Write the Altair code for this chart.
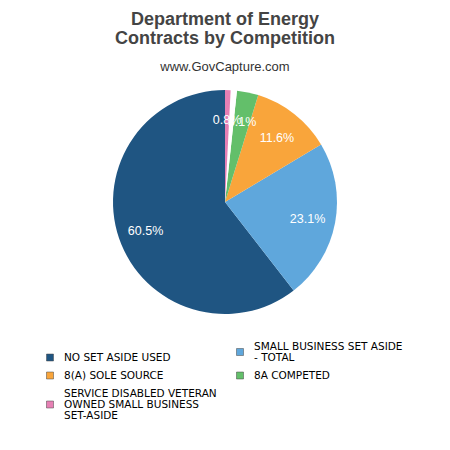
import altair as alt
import pandas as pd

# slices as drawn clockwise from 12 o'clock are reversed from this list
categories = [
    "NO SET ASIDE USED",
    "SMALL BUSINESS SET ASIDE - TOTAL",
    "8(A) SOLE SOURCE",
    "8A COMPETED",
    "OTHER",
    "SERVICE DISABLED VETERAN OWNED SMALL BUSINESS SET-ASIDE",
]
values = [60.5, 23.1, 11.6, 3.1, 0.9, 0.8]
pie_labels = ["60.5%", "23.1%", "11.6%", "3.1%", "", "0.8%"]
draw_order = [6, 5, 4, 3, 2, 1]
colors = ["#1f5582", "#5fa7dc", "#f9a53b", "#63bf6a", "#ffffff", "#e680b4"]

legend_categories = [
    "NO SET ASIDE USED",
    "SMALL BUSINESS SET ASIDE - TOTAL",
    "8(A) SOLE SOURCE",
    "8A COMPETED",
    "SERVICE DISABLED VETERAN OWNED SMALL BUSINESS SET-ASIDE",
]
legend_lines = [
    ["NO SET ASIDE USED"],
    ["SMALL BUSINESS SET ASIDE", "- TOTAL"],
    ["8(A) SOLE SOURCE"],
    ["8A COMPETED"],
    ["SERVICE DISABLED VETERAN", "OWNED SMALL BUSINESS", "SET-ASIDE"],
]

color_scale = alt.Scale(domain=categories, range=colors)

df = pd.DataFrame({
    "category": categories,
    "value": values,
    "order": draw_order,
    "label": pie_labels,
})

# ---- pie ----
base = alt.Chart(df).encode(
    theta=alt.Theta("value:Q", stack=True),
    order=alt.Order("order:Q"),
)
pie = base.mark_arc(outerRadius=112).encode(
    color=alt.Color("category:N", scale=color_scale, legend=None)
)
text = base.mark_text(radius=84, dy=2, color="white", font="Liberation Sans", fontSize=12.5).encode(
    text="label:N"
)
pie_chart = (pie + text).properties(width=424, height=240)

# ---- legend (two columns, multi-line labels centred on their swatch) ----
LH = 11.0     # line height of legend text
GAP = 7.0     # gap between stacked entries in a column
FIRST = 25.5  # where the last line of the first entry in each column sits
sym_rows, txt_rows = [], []
cursor = {}
for i, (cat, lines) in enumerate(zip(legend_categories, legend_lines)):
    col = i % 2
    n = len(lines)
    if col not in cursor:
        center = FIRST - (n - 1) * LH / 2
    else:
        center = cursor[col] + GAP + n * LH / 2
    cursor[col] = center + n * LH / 2
    sym_rows.append({"category": cat, "col": col, "y": center})
    top = center - (n - 1) * LH / 2
    for k, ln in enumerate(lines):
        txt_rows.append({"text": ln, "col": col, "y": top + k * LH})

LEG_H = 92
xs = alt.Scale(domain=[0, 1], range=[37, 227])
ys = alt.Scale(domain=[0, LEG_H], range=[0, LEG_H])

swatches = alt.Chart(pd.DataFrame(sym_rows)).mark_square(
    size=49, opacity=1, stroke="#444444", strokeWidth=0.5
).encode(
    x=alt.X("col:Q", scale=xs, axis=None),
    y=alt.Y("y:Q", scale=ys, axis=None),
    color=alt.Color("category:N", scale=color_scale, legend=None),
)
labels = alt.Chart(pd.DataFrame(txt_rows)).mark_text(
    align="left", baseline="middle", dx=14, font="DejaVu Sans", fontSize=10.5, color="#000000"
).encode(
    x=alt.X("col:Q", scale=xs, axis=None),
    y=alt.Y("y:Q", scale=ys, axis=None),
    text="text:N",
)
legend_chart = (swatches + labels).properties(width=424, height=LEG_H)

chart = alt.vconcat(pie_chart, legend_chart, spacing=10).properties(
    padding={"left": 5, "right": 5, "top": 3, "bottom": 5},
    title=alt.TitleParams(
        text=["Department of Energy", "Contracts by Competition"],
        subtitle="www.GovCapture.com",
        font="Liberation Sans",
        fontSize=18,
        fontWeight="bold",
        color="#444444",
        lineHeight=19,
        subtitleFont="Liberation Sans",
        subtitleFontSize=13,
        subtitleColor="#333333",
        subtitlePadding=13,
        anchor="middle",
        offset=8,
    ),
).configure_view(stroke=None)

chart.save("out.html", embed_options={"renderer": "svg", "actions": False})
